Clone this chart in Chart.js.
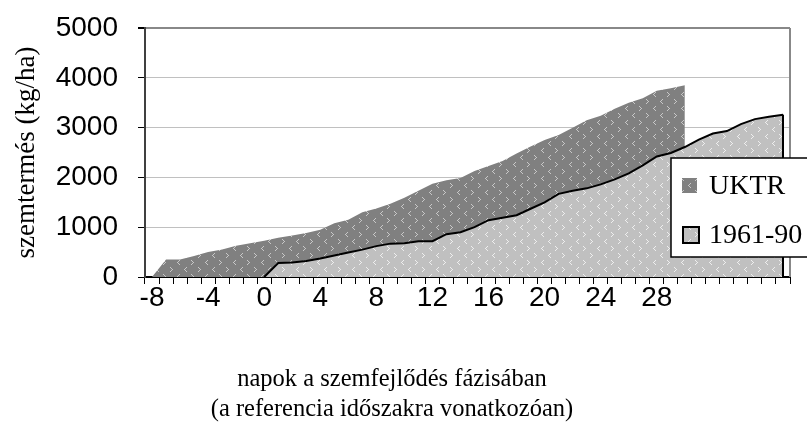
<!DOCTYPE html>
<html><head><meta charset="utf-8">
<script src="https://cdn.jsdelivr.net/npm/chart.js@4"></script>
<style>html,body{margin:0;padding:0;background:#fff;overflow:hidden;} #wrap{width:807px;height:427px;}</style>
</head><body><div id="wrap"><canvas id="c" width="807" height="427"></canvas></div>
<script>
const days = [-8,-7,-6,-5,-4,-3,-2,-1,0,1,2,3,4,5,6,7,8,9,10,11,12,13,14,15,16,17,18,19,20,21,22,23,24,25,26,27,28,29,30,31,32,33,34,35,36,37];
const tickLabels = ['-8','-4','0','4','8','12','16','20','24','28'];
const uktr = [0,350,350,420,500,550,630,680,730,790,835,885,950,1080,1150,1300,1375,1470,1590,1730,1870,1945,1990,2130,2230,2330,2480,2620,2750,2850,2995,3150,3240,3380,3500,3590,3740,3790,3850,null,null,null,null,null,null,null];
const ref6190 = [null,null,null,null,null,null,null,null,0,280,290,320,370,430,490,550,620,670,680,720,720,860,900,1000,1140,1190,1240,1370,1500,1670,1730,1780,1860,1960,2080,2240,2420,2490,2610,2760,2880,2930,3070,3170,3220,3260];
const seriesNames = ['UKTR','1961-90'];
const yTicks = [0,1000,2000,3000,4000,5000];
const yTitle = 'szemtermés (kg/ha)';
const xTitleLines = ['napok a szemfejlődés fázisában','(a referencia időszakra vonatkozóan)'];

const canvas = document.getElementById('c');
const ctx0 = canvas.getContext('2d');
function makePattern(bg, fg) {
  const t = document.createElement('canvas'); t.width = 28; t.height = 14;
  const g = t.getContext('2d');
  g.fillStyle = bg; g.fillRect(0,0,28,14);
  g.fillStyle = fg;
  const gt = (x,y)=>{ g.fillRect(x,y,1,1); g.fillRect(x+1,y+1,1,1); g.fillRect(x+2,y+2,1,1); g.fillRect(x+1,y+3,1,1); g.fillRect(x,y+4,1,1); };
  const lt = (x,y)=>{ g.fillRect(x+2,y,1,1); g.fillRect(x+1,y+1,1,1); g.fillRect(x,y+2,1,1); g.fillRect(x+1,y+3,1,1); g.fillRect(x+2,y+4,1,1); };
  gt(2,1); lt(16,1); lt(9,8); gt(23,8);
  return ctx0.createPattern(t,'repeat');
}
const darkPat = makePattern('#808080','#c8c8c8');
const lightPat = makePattern('#c0c0c0','#eeeeee');

const decor = {
  id: 'decor',
  afterDatasetsDraw(chart) {
    const {ctx, chartArea, scales} = chart;
    const meta = chart.getDatasetMeta(1);
    const last = meta.data[meta.data.length - 1];
    ctx.save();
    ctx.strokeStyle = '#000'; ctx.lineWidth = 2;
    ctx.beginPath(); ctx.moveTo(last.x, last.y); ctx.lineTo(last.x, scales.y.getPixelForValue(0)); ctx.stroke();
    ctx.strokeStyle = '#888'; ctx.lineWidth = 2;
    ctx.beginPath(); ctx.moveTo(chartArea.right, chartArea.top); ctx.lineTo(chartArea.right, chartArea.bottom); ctx.stroke();
    ctx.restore();
  },
  afterDraw(chart) {
    const {ctx, chartArea} = chart;
    ctx.save();
    const x0 = chartArea.right - 119, y0 = chartArea.top + 130;
    ctx.fillStyle = '#fff'; ctx.fillRect(x0, y0, 160, 99);
    ctx.strokeStyle = '#000'; ctx.lineWidth = 1.5; ctx.strokeRect(x0, y0, 160, 99);
    ctx.fillStyle = darkPat; ctx.fillRect(x0 + 11, y0 + 20, 15, 15);
    ctx.fillStyle = lightPat; ctx.fillRect(x0 + 12, y0 + 69, 16, 16);
    ctx.strokeStyle = '#000'; ctx.lineWidth = 2; ctx.strokeRect(x0 + 12, y0 + 69, 16, 16);
    ctx.fillStyle = '#000';
    ctx.font = '28px "Liberation Serif"';
    ctx.textAlign = 'left'; ctx.textBaseline = 'middle';
    ctx.fillText(seriesNames[0], x0 + 38, y0 + 29);
    ctx.fillText(seriesNames[1], x0 + 38, y0 + 78);
    ctx.font = '24.5px "Liberation Serif"';
    ctx.textAlign = 'center';
    ctx.fillText(xTitleLines[0], 392, 380);
    ctx.fillText(xTitleLines[1], 392, 410);
    ctx.restore();
  }
};

new Chart(canvas, {
  type: 'line',
  data: {
    labels: days.map(String),
    datasets: [
      {label: seriesNames[0], data: uktr, fill: 'origin', backgroundColor: darkPat, borderColor: 'rgba(0,0,0,0)', borderWidth: 0, pointRadius: 0, tension: 0, order: 1},
      {label: seriesNames[1], data: ref6190, fill: 'origin', backgroundColor: lightPat, borderColor: '#000', borderWidth: 2, pointRadius: 0, tension: 0, order: 0}
    ]
  },
  options: {
    responsive: false, animation: false, devicePixelRatio: 1,
    layout: {padding: {left: 0, right: 17, top: 28, bottom: 100}},
    plugins: {legend: {display: false}, tooltip: {enabled: false}, title: {display: false}},
    scales: {
      x: {
        type: 'category', offset: true,
        grid: {offset: true, drawOnChartArea: false, tickLength: 7, tickColor: '#000', color: '#000', lineWidth: 1},
        border: {display: true, color: '#000', width: 2},
        ticks: {autoSkip: false, maxRotation: 0, minRotation: 0, padding: 0, color: '#000',
          font: {family: 'Liberation Sans', size: 28, lineHeight: 1},
          callback: (v, i) => tickLabels.includes(String(days[i])) ? String(days[i]) : ''},
        afterFit: s => { s.height = 50; }
      },
      y: {
        min: yTicks[0], max: yTicks[yTicks.length - 1],
        afterBuildTicks: s => { s.ticks = yTicks.map(v => ({value: v})); },
        grid: {color: c => c.tick && c.tick.value === 5000 ? '#888' : '#c0c0c0', lineWidth: c => c.tick && c.tick.value === 5000 ? 2 : 1, tickLength: 7, tickColor: '#000'},
        border: {display: true, color: '#404040', width: 2},
        ticks: {padding: 20, color: '#000', font: {family: 'Liberation Sans', size: 28, lineHeight: 1}, callback: v => String(v)},
        title: {display: true, text: yTitle, color: '#000', font: {family: 'Liberation Serif', size: 27}, padding: {top: 11, bottom: 0}},
        afterFit: s => { s.width = 145; s.paddingTop = 0; s.paddingBottom = 0; }
      }
    }
  },
  plugins: [decor]
});
</script>
</body></html>
